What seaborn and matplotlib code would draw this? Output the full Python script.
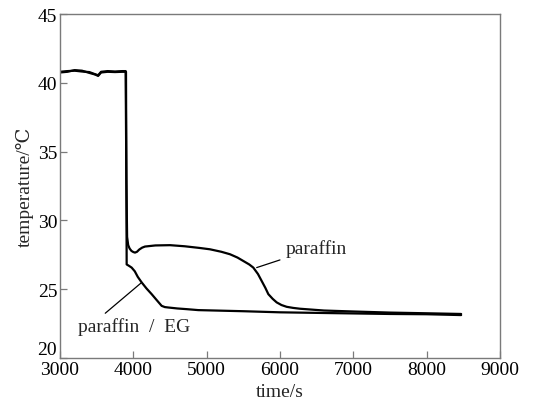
import numpy as np
import pandas as pd
import matplotlib
matplotlib.use("Agg")
import matplotlib.pyplot as plt
import seaborn as sns

# paraffin curve
paraffin_time = [3000, 3100, 3200, 3300, 3400, 3480, 3520, 3560, 3650, 3750, 3850, 3895,
                 3905, 3915, 3930, 3950, 3975, 4000, 4023, 4050, 4080, 4120, 4159, 4300,
                 4500, 4700, 4900, 5045, 5200, 5318, 5420, 5500, 5580, 5636, 5700, 5750,
                 5800, 5841, 5900, 5955, 6020, 6091, 6180, 6273, 6600, 7000, 7500, 8000, 8470]
paraffin_temp = [40.80, 40.85, 40.88, 40.82, 40.78, 40.62, 40.55, 40.80, 40.85, 40.82, 40.85, 40.85,
                 33.0, 28.8, 28.2, 27.95, 27.78, 27.70, 27.66, 27.72, 27.88, 28.02, 28.10, 28.18,
                 28.20, 28.12, 28.00, 27.90, 27.72, 27.54, 27.30, 27.05, 26.80, 26.57, 26.10, 25.60,
                 25.10, 24.64, 24.30, 24.04, 23.85, 23.72, 23.64, 23.58, 23.45, 23.38, 23.30, 23.25, 23.20]

# paraffin/EG curve
eg_time = [3000, 3100, 3200, 3300, 3400, 3480, 3520, 3560, 3650, 3750, 3850, 3900,
           3909, 3940, 3977, 4020, 4060, 4114, 4180, 4250, 4320, 4386, 4430, 4477,
           4600, 4727, 4886, 5500, 6000, 6730, 7500, 8000, 8470]
eg_temp = [40.75, 40.80, 40.92, 40.88, 40.72, 40.60, 40.50, 40.75, 40.80, 40.78, 40.80, 40.80,
           26.80, 26.70, 26.57, 26.30, 25.90, 25.49, 25.05, 24.64, 24.20, 23.79, 23.70, 23.67,
           23.60, 23.55, 23.48, 23.40, 23.32, 23.26, 23.20, 23.18, 23.12]

x_ticks = [3000, 4000, 5000, 6000, 7000, 8000, 9000]
y_ticks = [20, 25, 30, 35, 40, 45]

df = pd.concat([
    pd.DataFrame({"time": paraffin_time, "temp": paraffin_temp, "series": "paraffin"}),
    pd.DataFrame({"time": eg_time, "temp": eg_temp, "series": "paraffin/EG"}),
])

sns.set_style("white")
plt.rcParams["font.family"] = ["Liberation Serif", "DejaVu Serif"]

FS = 14

fig = plt.figure(figsize=(5.51, 4.06), dpi=100)
ax = fig.add_axes([60 / 551, 47 / 406, 440 / 551, 344 / 406])

sns.lineplot(data=df, x="time", y="temp", units="series", estimator=None,
             color="black", linewidth=1.6, sort=False, ax=ax, legend=False)

ax.set_xlim(3000, 9000)
ax.set_ylim(20, 45)
ax.set_xticks(x_ticks)
ax.set_yticks(y_ticks)
ax.set_xticklabels([str(t) for t in x_ticks])
ax.set_yticklabels([str(t) for t in y_ticks])
ax.get_yticklabels()[0].set_va("bottom")

for s in ax.spines.values():
    s.set_color("#7a7a7a")
    s.set_linewidth(1.0)

ax.tick_params(axis="both", direction="in", length=5, width=0.9, color="#7a7a7a",
               labelsize=FS, labelcolor="black", top=False, right=False,
               left=True, bottom=True, pad=2)

ax.set_xlabel("time/s", fontsize=FS, labelpad=4)
ax.set_ylabel("temperature/℃", fontsize=FS, labelpad=3)

# annotations
ax.annotate("paraffin", xy=(5682, 26.57), xytext=(6080, 28.0),
            fontsize=FS, va="center", ha="left",
            arrowprops=dict(arrowstyle="-", color="black", lw=0.9, shrinkA=2, shrinkB=0))
ax.annotate("paraffin\u2002/\u2002EG", xy=(4105, 25.45), xytext=(4009, 22.3),
            fontsize=FS, va="center", ha="center",
            arrowprops=dict(arrowstyle="-", color="black", lw=0.9, shrinkA=1, shrinkB=0,
                            relpos=(0.2, 1.0)))

fig.savefig("out.png", dpi=100)
